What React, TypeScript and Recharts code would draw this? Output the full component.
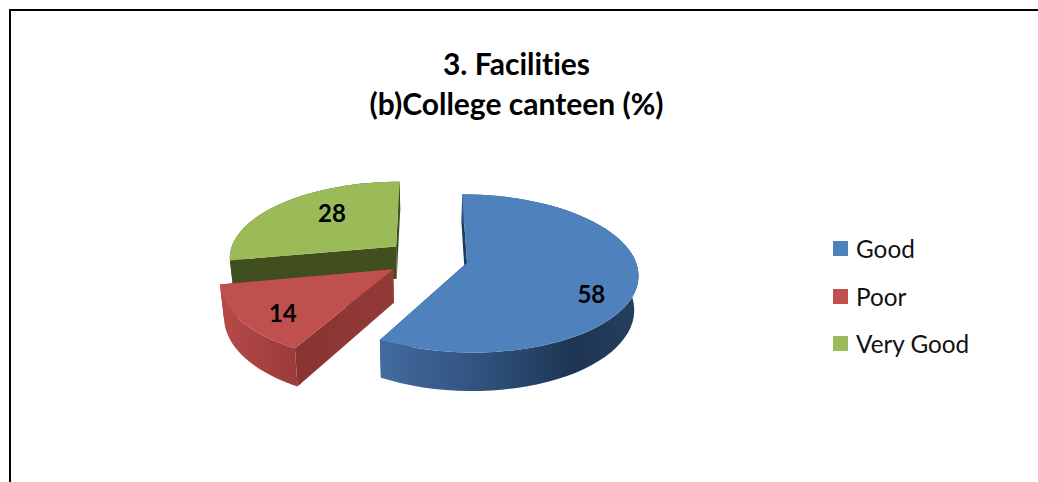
import { PieChart, Pie, Legend } from "recharts";

const categories = ["Good", "Poor", "Very Good"];
const values = [58, 14, 28];
const colors = ["#4f81bd", "#c0504d", "#9bbb59"];

// walls: outer gradient stops (left to right) and the cut face colour
const outerWalls: Record<string, string[]> = {
  Good: ["#426b9e", "#375b8b", "#2b4a72", "#1e3553", "#24405f"],
  Poor: ["#b54c49", "#ae4745", "#a84341", "#a23f3d", "#9a3c3a"],
  "Very Good": ["#414f1e", "#414f1e", "#414f1e", "#414f1e", "#414f1e"],
};
const cutWalls: Record<string, string[]> = {
  Good: ["#1f3a5f", "#1f3a5f"],
  Poor: ["#8a3432", "#913a38"],
  "Very Good": ["#414f1e", "#414f1e"],
};
const labelNudge: Record<string, number[]> = {
  Good: [2.5, 17],
  Poor: [-2.5, 8],
  "Very Good": [20, -2],
};

// slices are listed backwards and swept counter-clockwise so green paints first and blue last
const tableData = categories
  .map((name, i) => ({ name, value: values[i], fill: colors[i] }))
  .reverse();

const EXPLODE = 42;
const CAMERA = 1275;
const HEIGHT = 566;
const DEPTH = 33;
const X_SCALE = 0.975;

const rad = (deg: number) => (deg * Math.PI) / 180;

// ground plane point to screen, a simple perspective from above
function project(cx: number, cy: number, mid: number, a: number, r: number, lift = 0) {
  const wx = EXPLODE * Math.cos(rad(mid)) + r * Math.cos(rad(a));
  const wz = EXPLODE * Math.sin(rad(mid)) + r * Math.sin(rad(a));
  const s = CAMERA / (CAMERA + wz);
  return {
    x: cx + wx * s * X_SCALE * (lift ? 0.98 : 1),
    y: cy + HEIGHT * (s - 1) + lift * s,
  };
}

const toPath = (pts: { x: number; y: number }[]) =>
  pts.map((p, i) => `${i ? "L" : "M"}${p.x.toFixed(1)},${p.y.toFixed(1)}`).join(" ") + " Z";

function Slice3D(props: any) {
  const { cx, cy, startAngle, endAngle, outerRadius, name, fill } = props;
  const a0 = Math.min(startAngle, endAngle);
  const a1 = Math.max(startAngle, endAngle);
  const mid = (a0 + a1) / 2;
  const steps = 60;
  const angles = Array.from({ length: steps + 1 }, (_, i) => a0 + ((a1 - a0) * i) / steps);
  const arcTop = angles.map((a) => project(cx, cy, mid, a, outerRadius));
  const arcLow = angles.map((a) => project(cx, cy, mid, a, outerRadius, DEPTH));
  const apexTop = project(cx, cy, mid, a0, 0);
  const apexLow = project(cx, cy, mid, a0, 0, DEPTH);
  const id = name.replace(" ", "");
  const outer = outerWalls[name];
  const cut = cutWalls[name];
  const xs = arcTop.map((p) => p.x);
  const xMin = Math.min(...xs);
  const xMax = Math.max(...xs);

  return (
    <g>
      <defs>
        <linearGradient id={`wall-${id}`} gradientUnits="userSpaceOnUse" x1={xMin} x2={xMax} y1={0} y2={0}>
          {outer.map((c, i) => (
            <stop key={i} offset={i / (outer.length - 1)} stopColor={c} />
          ))}
        </linearGradient>
        <linearGradient id={`cut-${id}`} gradientUnits="userSpaceOnUse" x1={arcTop[steps].x} x2={apexTop.x} y1={0} y2={0}>
          <stop offset={0} stopColor={cut[0]} />
          <stop offset={1} stopColor={cut[1]} />
        </linearGradient>
      </defs>
      <path d={toPath([apexTop, arcTop[steps], arcLow[steps], apexLow])} fill={`url(#cut-${id})`} />
      <path d={toPath([apexTop, arcTop[0], arcLow[0], apexLow])} fill={`url(#cut-${id})`} />
      <path d={toPath([...arcTop, ...[...arcLow].reverse()])} fill={`url(#wall-${id})`} />
      <path d={toPath([apexTop, ...arcTop])} fill={fill} />
    </g>
  );
}

function SliceLabel(props: any) {
  const { cx, cy, midAngle, outerRadius, name, value } = props;
  const p = project(cx, cy, midAngle, midAngle, outerRadius * 0.72);
  const [dx, dy] = labelNudge[name];
  return (
    <text
      x={p.x + dx}
      y={p.y + dy}
      textAnchor="middle"
      dominantBaseline="central"
      fontFamily="Lato"
      fontWeight={700}
      fontSize={24}
      fill="#000"
    >
      {value}
    </text>
  );
}

function LegendList() {
  return (
    <div style={{ fontFamily: "Lato", fontSize: 24.3, color: "#111" }}>
      {categories.map((name, i) => (
        <div key={name} style={{ display: "flex", alignItems: "center", height: 47.5 }}>
          <span style={{ width: 15, height: 15, background: colors[i], marginRight: 8 }} />
          <span>{name}</span>
        </div>
      ))}
    </div>
  );
}

export default function App() {
  return (
    <div style={{ position: "fixed", left: 0, top: 0, width: 1038, height: 482, overflow: "hidden", background: "#fff" }}>
      <div
        style={{
          position: "absolute",
          left: 9,
          top: 9,
          width: 1100,
          height: 600,
          borderLeft: "2px solid #000",
          borderTop: "2px solid #000",
        }}
      />
      <div
        style={{
          position: "absolute",
          left: 0,
          width: 1033,
          top: 43,
          textAlign: "center",
          fontFamily: "Lato",
          fontWeight: 700,
          fontSize: 30,
          lineHeight: "40px",
          fontVariantLigatures: "none",
          color: "#000",
        }}
      >
        3. Facilities
        <br />
        (b)College canteen (%)
      </div>
      <div style={{ position: "absolute", left: 0, top: 0 }}>
        <PieChart width={1038} height={482} margin={{ top: 0, right: 0, bottom: 0, left: 0 }}>
          <Pie
            data={tableData}
            dataKey="value"
            nameKey="name"
            cx={427}
            cy={258}
            outerRadius={172}
            startAngle={90}
            endAngle={450}
            stroke="none"
            labelLine={false}
            label={SliceLabel}
            shape={Slice3D}
            isAnimationActive={false}
          />
          <Legend content={LegendList} wrapperStyle={{ position: "absolute", left: 833, top: 225, width: 180 }} />
        </PieChart>
      </div>
    </div>
  );
}
